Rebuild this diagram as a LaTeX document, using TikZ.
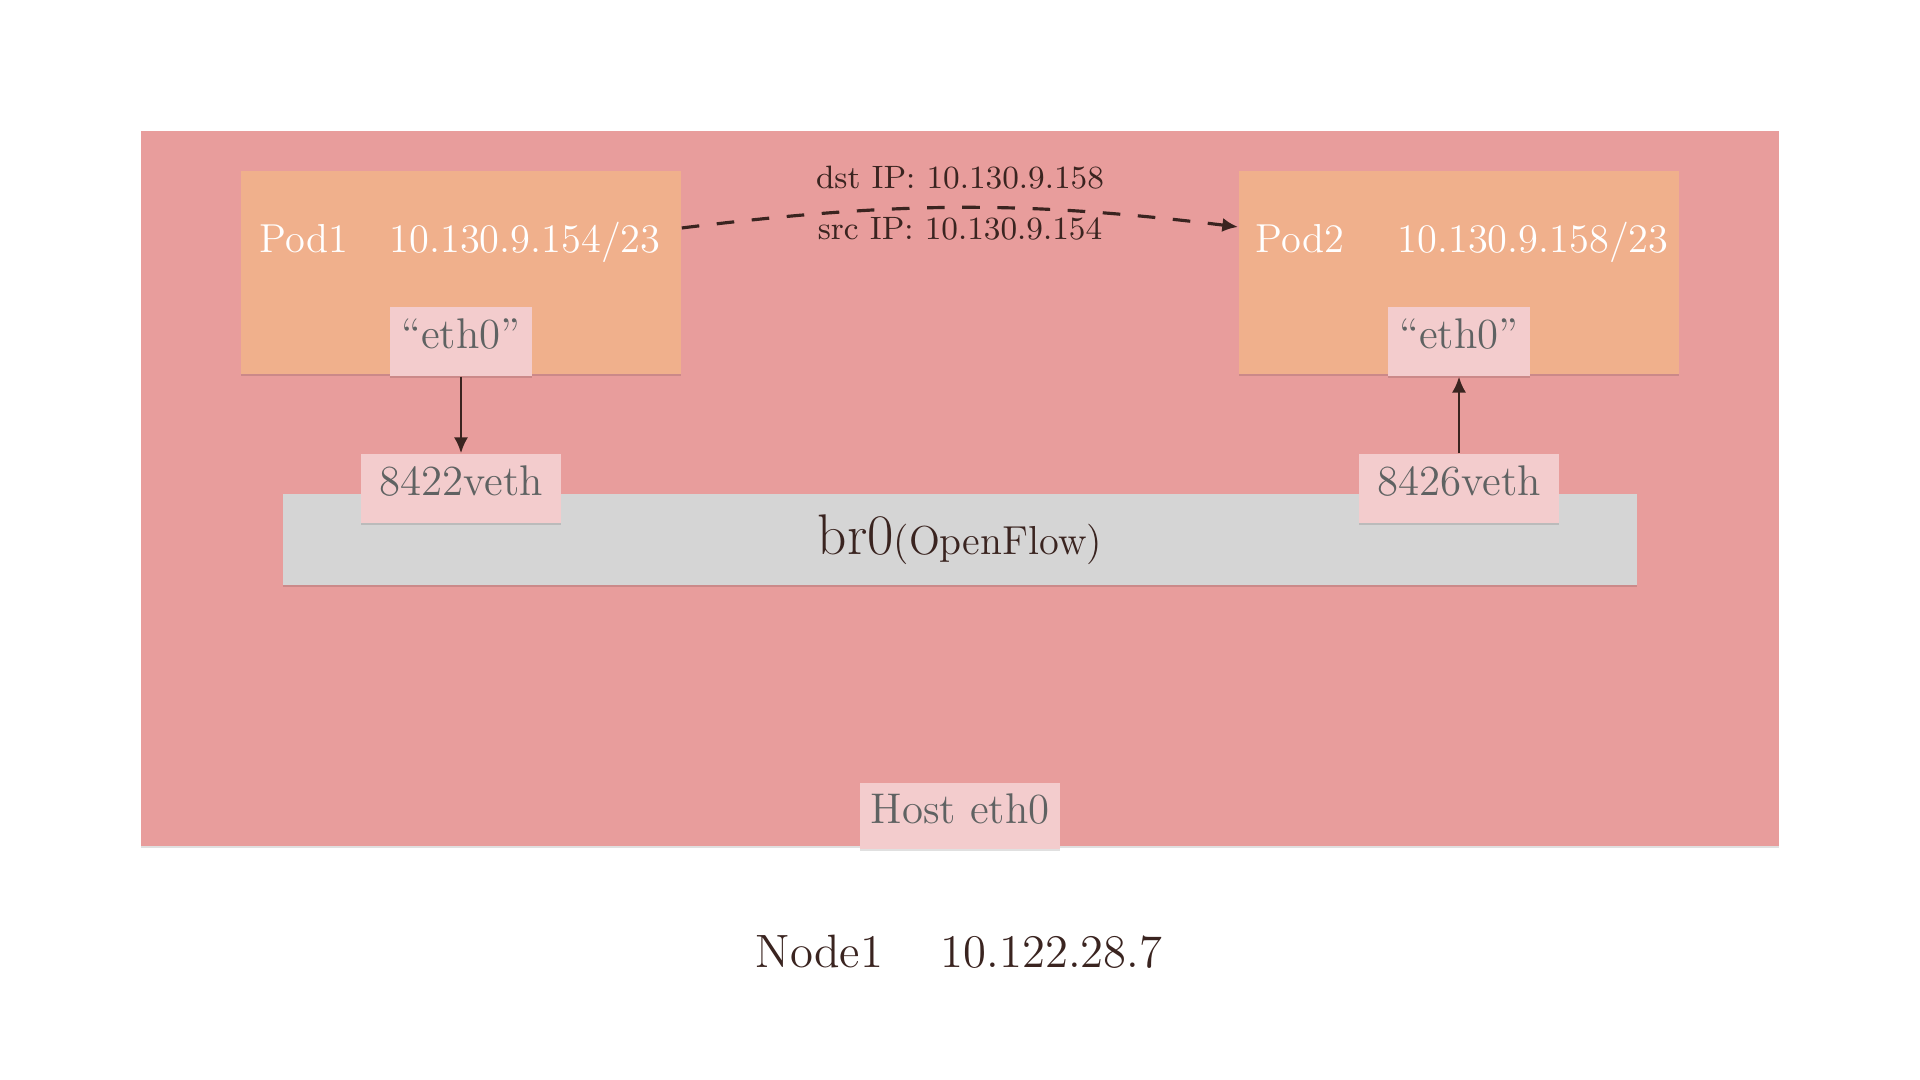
\documentclass[tikz,border=0pt]{standalone}
\usepackage{fontspec}
\usetikzlibrary{arrows.meta,shadows}
\definecolor{hostpink}{HTML}{E89D9C}
\definecolor{podorange}{HTML}{F0B08C}
\definecolor{tagpink}{HTML}{F3CCCD}
\definecolor{bridgegray}{HTML}{D5D5D5}
\definecolor{taggray}{HTML}{5F6262}
\definecolor{inkbrown}{HTML}{3A2420}
\begin{document}
\begin{tikzpicture}[x=0.01cm,y=-0.01cm,
    softshadow/.style={drop shadow={shadow xshift=0pt,shadow yshift=-0.6pt,opacity=0.12,fill=black}},
    podbox/.style={fill=podorange,minimum width=4.4cm,minimum height=2.03cm,inner sep=0pt,softshadow},
    tag/.style={fill=tagpink,text=taggray,inner sep=0pt,minimum height=0.69cm,text height=0.6em,text depth=0.2em,
      font=\fontsize{12.2}{14}\selectfont,softshadow},
    podtext/.style={text=white,anchor=base west,inner sep=0pt,font=\fontsize{11.5}{13}\selectfont},
    iptext/.style={text=inkbrown,anchor=base,inner sep=0pt,font=\fontsize{9.2}{11}\selectfont},
    link/.style={inkbrown,line width=0.7pt,-{Latex[length=4.5pt,width=4pt]}}]
  \useasboundingbox (0,0) rectangle (1920,1080);
  \fill[hostpink,softshadow] (141,131) rectangle (1779,846);
  \node[podbox] (pod1) at (461,272.5) {};
  \node[podbox] (pod2) at (1459,272.5) {};
  \node[podtext] (pod1name) at (259,253) {Pod1};
  \node[podtext] (pod1ip) at (389,253) {10.130.9.154/23};
  \node[podtext] (pod2name) at (1255,253) {Pod2};
  \node[podtext] (pod2ip) at (1397,253) {10.130.9.158/23};
  \node[tag,minimum width=1.41cm] (pod1eth) at (461,341.5) {“eth0”};
  \node[tag,minimum width=1.41cm] (pod2eth) at (1459,341.5) {“eth0”};
  \node[fill=bridgegray,minimum width=13.54cm,minimum height=0.91cm,inner sep=0pt,text=inkbrown,softshadow]
    (br0) at (960,539.5) {{\fontsize{16.3}{18}\selectfont br0}{\fontsize{11.5}{13}\selectfont(OpenFlow)}};
  \node[tag,minimum width=2cm] (veth1) at (461,488.5) {8422veth};
  \node[tag,minimum width=2cm] (veth2) at (1459,488.5) {8426veth};
  \node[tag,minimum width=2cm,minimum height=0.66cm] (hosteth) at (960,816) {Host eth0};
  \node[iptext] (dstip) at (960,189) {dst IP: 10.130.9.158};
  \node[iptext] (srcip) at (960,240) {src IP: 10.130.9.154};
  \node[text=inkbrown,anchor=base west,inner sep=0pt,font=\fontsize{13.3}{15}\selectfont] (nodename) at (755,968) {Node1};
  \node[text=inkbrown,anchor=base west,inner sep=0pt,font=\fontsize{13.3}{15}\selectfont] (nodeip) at (940,968) {10.122.28.7};
  \draw[link] (pod1eth) -- (veth1);
  \draw[link] (veth2) -- (pod2eth);
  \draw[link,line width=0.9pt,dash pattern=on 5pt off 5pt] ([yshift=0.445cm]pod1.east) to[out=7,in=173] ([yshift=0.455cm]pod2.west);
\end{tikzpicture}
\end{document}
